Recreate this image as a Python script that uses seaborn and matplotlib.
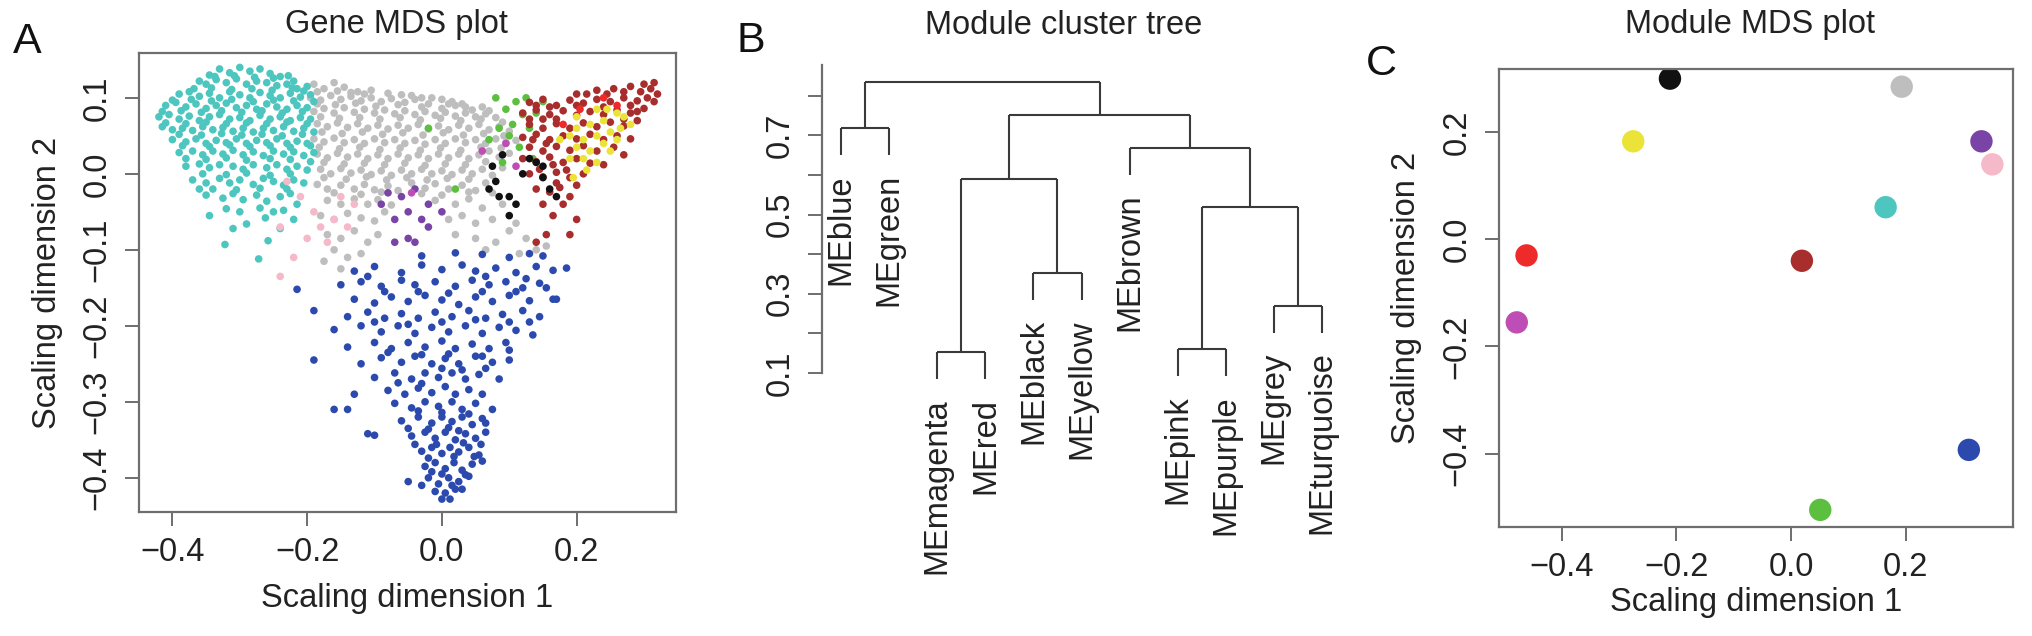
import numpy as np
import pandas as pd
import matplotlib
matplotlib.use("Agg")
import matplotlib.pyplot as plt
import seaborn as sns

# ---------------- data ----------------
# Panel A: gene MDS coordinates (per module)
turquoise_pts = [
    (-0.345, 0.13), (-0.33, 0.138), (-0.315, 0.133), (-0.30, 0.14), (-0.285, 0.135), (-0.27, 0.138), (-0.255, 0.132), (-0.24, 0.128), (-0.22, 0.122),
    (-0.36, 0.122), (-0.35, 0.118), (-0.335, 0.124), (-0.32, 0.12), (-0.305, 0.125), (-0.29, 0.118), (-0.275, 0.122), (-0.26, 0.12), (-0.245, 0.116), (-0.23, 0.118), (-0.215, 0.112), (-0.20, 0.115),
    (-0.39, 0.105), (-0.375, 0.108), (-0.36, 0.102), (-0.345, 0.106), (-0.33, 0.10), (-0.315, 0.108), (-0.30, 0.104), (-0.285, 0.10), (-0.27, 0.107), (-0.255, 0.103), (-0.24, 0.10), (-0.225, 0.106), (-0.21, 0.101), (-0.195, 0.104),
    (-0.41, 0.09), (-0.395, 0.094), (-0.38, 0.088), (-0.365, 0.092), (-0.35, 0.086), (-0.335, 0.09), (-0.32, 0.093), (-0.305, 0.087), (-0.29, 0.09), (-0.275, 0.085), (-0.26, 0.092), (-0.245, 0.088), (-0.23, 0.085), (-0.215, 0.09), (-0.20, 0.087),
    (-0.42, 0.075), (-0.405, 0.078), (-0.39, 0.072), (-0.375, 0.076), (-0.36, 0.07), (-0.345, 0.075), (-0.33, 0.078), (-0.315, 0.072), (-0.30, 0.074), (-0.285, 0.07), (-0.27, 0.077), (-0.255, 0.072), (-0.24, 0.075), (-0.225, 0.07), (-0.21, 0.074), (-0.195, 0.072),
    (-0.415, 0.062), (-0.40, 0.058), (-0.385, 0.06), (-0.37, 0.057), (-0.355, 0.062), (-0.34, 0.058), (-0.325, 0.061), (-0.31, 0.056), (-0.295, 0.06), (-0.28, 0.055), (-0.265, 0.06), (-0.25, 0.057), (-0.235, 0.062), (-0.22, 0.056), (-0.205, 0.06), (-0.19, 0.055),
    (-0.40, 0.045), (-0.38, 0.042), (-0.365, 0.046), (-0.35, 0.04), (-0.335, 0.044), (-0.32, 0.041), (-0.305, 0.046), (-0.29, 0.04), (-0.275, 0.044), (-0.26, 0.041), (-0.245, 0.046), (-0.23, 0.04), (-0.215, 0.043), (-0.20, 0.04),
    (-0.39, 0.028), (-0.37, 0.03), (-0.355, 0.025), (-0.34, 0.03), (-0.325, 0.026), (-0.31, 0.031), (-0.295, 0.025), (-0.28, 0.029), (-0.265, 0.024), (-0.25, 0.03), (-0.235, 0.026), (-0.22, 0.029), (-0.205, 0.024), (-0.19, 0.028),
    (-0.38, 0.01), (-0.36, 0.013), (-0.345, 0.008), (-0.33, 0.012), (-0.31, 0.01), (-0.295, 0.006), (-0.28, 0.012), (-0.26, 0.008), (-0.245, 0.012), (-0.23, 0.006), (-0.215, 0.01), (-0.20, 0.005),
    (-0.37, -0.008), (-0.35, -0.012), (-0.33, -0.006), (-0.315, -0.012), (-0.30, -0.008), (-0.28, -0.014), (-0.265, -0.006), (-0.25, -0.01), (-0.235, -0.015), (-0.22, -0.008), (-0.205, -0.012),
    (-0.35, -0.028), (-0.325, -0.032), (-0.31, -0.026), (-0.295, -0.034), (-0.275, -0.028), (-0.26, -0.036), (-0.24, -0.03), (-0.225, -0.026), (-0.215, -0.04),
    (-0.32, -0.046), (-0.30, -0.05), (-0.27, -0.045), (-0.25, -0.05), (-0.235, -0.048),
    (-0.31, -0.072), (-0.322, -0.093), (-0.29, -0.066), (-0.272, -0.112), (-0.258, -0.088), (-0.24, -0.072), (-0.262, -0.058), (-0.36, -0.02), (-0.345, -0.055), (-0.22, -0.06),
    (-0.337, 0.128), (-0.308, 0.129), (-0.278, 0.127), (-0.25, 0.126), (-0.228, 0.129),
    (-0.368, 0.112), (-0.342, 0.113), (-0.312, 0.111), (-0.282, 0.112), (-0.252, 0.11), (-0.222, 0.113), (-0.205, 0.109),
    (-0.40, 0.097), (-0.372, 0.098), (-0.342, 0.096), (-0.312, 0.098), (-0.28, 0.095), (-0.25, 0.097), (-0.22, 0.096), (-0.19, 0.095),
    (-0.415, 0.082), (-0.387, 0.083), (-0.357, 0.081), (-0.327, 0.083), (-0.297, 0.081), (-0.267, 0.083), (-0.237, 0.08), (-0.207, 0.082),
    (-0.41, 0.067), (-0.38, 0.066), (-0.35, 0.068), (-0.32, 0.066), (-0.29, 0.067), (-0.26, 0.066), (-0.23, 0.068), (-0.20, 0.066),
    (-0.39, 0.052), (-0.357, 0.051), (-0.327, 0.053), (-0.297, 0.051), (-0.267, 0.052), (-0.237, 0.05), (-0.207, 0.052),
    (-0.385, 0.037), (-0.345, 0.036), (-0.315, 0.038), (-0.285, 0.036), (-0.255, 0.037), (-0.225, 0.035), (-0.195, 0.037),
    (-0.38, 0.02), (-0.35, 0.019), (-0.32, 0.021), (-0.29, 0.018), (-0.255, 0.02), (-0.225, 0.019), (-0.195, 0.016),
    (-0.355, 0.0), (-0.32, -0.001), (-0.29, 0.001), (-0.255, -0.002), (-0.225, 0.0),
    (-0.34, -0.02), (-0.305, -0.021), (-0.27, -0.019), (-0.23, -0.02),
]
grey_pts = [
    (-0.19, 0.118), (-0.175, 0.112), (-0.16, 0.12), (-0.145, 0.114), (-0.125, 0.108), (-0.105, 0.11), (-0.06, 0.104), (-0.03, 0.10), (0.0, 0.098), (0.03, 0.092),
    (-0.195, 0.10), (-0.18, 0.097), (-0.165, 0.103), (-0.15, 0.098), (-0.135, 0.102), (-0.12, 0.096), (-0.105, 0.10), (-0.09, 0.095), (-0.075, 0.099), (-0.055, 0.094), (-0.04, 0.098), (-0.02, 0.092), (0.0, 0.086), (0.02, 0.09), (0.045, 0.084), (0.06, 0.088),
    (-0.19, 0.082), (-0.175, 0.086), (-0.16, 0.08), (-0.145, 0.087), (-0.13, 0.081), (-0.115, 0.085), (-0.10, 0.08), (-0.085, 0.084), (-0.07, 0.079), (-0.055, 0.083), (-0.04, 0.078), (-0.025, 0.082), (-0.01, 0.077), (0.005, 0.081), (0.02, 0.076), (0.035, 0.08), (0.05, 0.075), (0.065, 0.079), (0.08, 0.074),
    (-0.185, 0.066), (-0.17, 0.062), (-0.155, 0.067), (-0.14, 0.061), (-0.125, 0.066), (-0.11, 0.06), (-0.095, 0.064), (-0.08, 0.059), (-0.065, 0.064), (-0.05, 0.06), (-0.035, 0.065), (-0.02, 0.059), (-0.005, 0.063), (0.01, 0.058), (0.025, 0.064), (0.04, 0.06), (0.055, 0.065), (0.07, 0.058), (0.085, 0.062), (0.10, 0.056),
    (-0.19, 0.046), (-0.175, 0.042), (-0.16, 0.047), (-0.145, 0.041), (-0.13, 0.045), (-0.115, 0.04), (-0.10, 0.046), (-0.085, 0.041), (-0.07, 0.045), (-0.055, 0.04), (-0.04, 0.044), (-0.025, 0.039), (-0.01, 0.045), (0.005, 0.04), (0.02, 0.046), (0.035, 0.041), (0.05, 0.045), (0.065, 0.04), (0.08, 0.046), (0.095, 0.041), (0.11, 0.044),
    (-0.185, 0.026), (-0.17, 0.021), (-0.155, 0.027), (-0.14, 0.022), (-0.125, 0.026), (-0.11, 0.02), (-0.095, 0.025), (-0.08, 0.02), (-0.065, 0.026), (-0.05, 0.021), (-0.035, 0.025), (-0.02, 0.02), (-0.005, 0.026), (0.01, 0.021), (0.025, 0.026), (0.04, 0.02), (0.055, 0.025), (0.07, 0.03), (0.085, 0.022), (0.10, 0.027),
    (-0.18, 0.006), (-0.165, 0.0), (-0.15, 0.007), (-0.135, 0.001), (-0.12, 0.005), (-0.105, -0.001), (-0.09, 0.004), (-0.075, -0.002), (-0.06, 0.005), (-0.045, 0.0), (-0.03, 0.006), (-0.015, 0.0), (0.0, 0.004), (0.015, -0.001), (0.03, 0.005), (0.045, 0.0), (0.06, 0.006), (0.09, 0.008),
    (-0.185, -0.014), (-0.17, -0.02), (-0.15, -0.015), (-0.13, -0.02), (-0.115, -0.014), (-0.10, -0.021), (-0.08, -0.016), (-0.065, -0.022), (-0.045, -0.012), (-0.025, -0.019), (-0.01, -0.013), (0.01, -0.02), (0.03, -0.015), (0.05, -0.022), (0.065, -0.012),
    (-0.17, -0.035), (-0.15, -0.04), (-0.13, -0.033), (-0.11, -0.04), (-0.095, -0.034), (-0.075, -0.041), (-0.01, -0.035), (0.02, -0.04), (0.04, -0.033), (0.06, -0.045), (0.09, -0.04),
    (-0.18, -0.055), (-0.16, -0.06), (-0.14, -0.052), (-0.12, -0.058), (-0.10, -0.062), (-0.085, -0.05), (0.01, -0.06), (0.03, -0.055), (0.05, -0.065), (0.075, -0.06), (0.11, -0.065),
    (-0.17, -0.08), (-0.15, -0.085), (-0.13, -0.075), (-0.11, -0.09), (-0.16, -0.10), (-0.14, -0.11), (-0.175, -0.115), (-0.15, -0.125), (-0.12, -0.105), (-0.095, -0.08),
    (0.02, -0.08), (0.05, -0.085), (0.08, -0.09), (0.10, -0.075), (0.125, -0.085), (0.14, -0.10), (0.155, -0.095), (0.065, -0.10), (0.115, -0.105),
    (-0.185, 0.108), (-0.155, 0.109), (-0.135, 0.107), (-0.115, 0.105), (-0.08, 0.106), (-0.045, 0.103), (-0.015, 0.1), (0.015, 0.095),
    (-0.185, 0.092), (-0.158, 0.091), (-0.128, 0.093), (-0.098, 0.089), (-0.065, 0.091), (-0.03, 0.088), (0.01, 0.092), (0.035, 0.088), (0.07, 0.083),
    (-0.18, 0.075), (-0.152, 0.073), (-0.122, 0.074), (-0.092, 0.072), (-0.062, 0.074), (-0.032, 0.071), (-0.002, 0.073), (0.028, 0.07), (0.058, 0.072), (0.09, 0.068),
    (-0.178, 0.055), (-0.148, 0.053), (-0.118, 0.055), (-0.088, 0.052), (-0.058, 0.054), (-0.028, 0.051), (0.002, 0.054), (0.032, 0.051), (0.062, 0.053), (0.092, 0.05),
    (-0.182, 0.035), (-0.152, 0.033), (-0.122, 0.035), (-0.092, 0.032), (-0.062, 0.034), (-0.032, 0.031), (-0.002, 0.034), (0.028, 0.031), (0.058, 0.035), (0.088, 0.034),
    (-0.175, 0.015), (-0.145, 0.013), (-0.115, 0.014), (-0.085, 0.012), (-0.055, 0.014), (-0.025, 0.011), (0.005, 0.013), (0.035, 0.012), (0.065, 0.016),
    (-0.175, -0.005), (-0.142, -0.007), (-0.112, -0.004), (-0.082, -0.008), (-0.052, -0.005), (-0.022, -0.008), (0.008, -0.006), (0.04, -0.007), (0.075, -0.002),
    (-0.16, -0.025), (-0.12, -0.027), (-0.09, -0.024), (-0.03, -0.026), (0.0, -0.028), (0.04, -0.024), (0.075, -0.025),
]
blue_pts = [
    (-0.03, -0.108), (0.02, -0.104), (0.06, -0.106), (0.10, -0.11), (0.13, -0.105), (0.15, -0.108),
    (-0.13, -0.128), (-0.10, -0.122), (-0.06, -0.13), (-0.03, -0.12), (0.0, -0.126), (0.03, -0.12), (0.05, -0.128), (0.08, -0.124), (0.11, -0.13), (0.14, -0.122), (0.165, -0.127), (0.185, -0.124),
    (-0.15, -0.146), (-0.12, -0.142), (-0.09, -0.148), (-0.06, -0.14), (-0.04, -0.146), (-0.01, -0.142), (0.02, -0.148), (0.045, -0.14), (0.07, -0.146), (0.095, -0.142), (0.12, -0.15), (0.145, -0.144),
    (-0.13, -0.165), (-0.10, -0.17), (-0.075, -0.162), (-0.05, -0.168), (-0.025, -0.16), (0.0, -0.166), (0.025, -0.172), (0.05, -0.162), (0.075, -0.168), (0.10, -0.16), (0.13, -0.167), (0.165, -0.165),
    (-0.19, -0.18), (-0.14, -0.188), (-0.11, -0.182), (-0.085, -0.19), (-0.06, -0.184), (-0.035, -0.19), (-0.01, -0.182), (0.015, -0.188), (0.04, -0.18), (0.065, -0.19), (0.09, -0.185), (0.12, -0.18), (0.145, -0.188),
    (-0.16, -0.205), (-0.12, -0.20), (-0.09, -0.208), (-0.065, -0.20), (-0.04, -0.21), (-0.015, -0.202), (0.01, -0.208), (0.035, -0.20), (0.06, -0.21), (0.085, -0.202), (0.11, -0.206), (0.135, -0.212),
    (-0.14, -0.228), (-0.10, -0.222), (-0.075, -0.23), (-0.05, -0.222), (-0.025, -0.228), (0.0, -0.22), (0.02, -0.23), (0.045, -0.224), (0.07, -0.23), (0.095, -0.222),
    (-0.19, -0.245), (-0.12, -0.25), (-0.09, -0.242), (-0.06, -0.248), (-0.04, -0.24), (-0.015, -0.25), (0.005, -0.243), (0.025, -0.25), (0.05, -0.24), (0.075, -0.248), (0.10, -0.245),
    (-0.10, -0.268), (-0.07, -0.262), (-0.045, -0.27), (-0.025, -0.262), (-0.005, -0.268), (0.015, -0.262), (0.035, -0.27), (0.055, -0.264), (0.085, -0.27),
    (-0.13, -0.29), (-0.08, -0.285), (-0.055, -0.29), (-0.035, -0.282), (-0.015, -0.288), (0.005, -0.28), (0.02, -0.29), (0.04, -0.284), (0.06, -0.29),
    (-0.16, -0.31), (-0.14, -0.31), (-0.07, -0.302), (-0.045, -0.308), (-0.025, -0.30), (-0.005, -0.306), (0.015, -0.30), (0.03, -0.31), (0.05, -0.302), (0.075, -0.31),
    (-0.06, -0.325), (-0.035, -0.32), (-0.015, -0.328), (0.0, -0.32), (0.015, -0.326), (0.03, -0.32), (0.045, -0.33), (0.06, -0.322),
    (-0.11, -0.342), (-0.10, -0.344), (-0.045, -0.345), (-0.025, -0.34), (-0.01, -0.348), (0.005, -0.34), (0.02, -0.35), (0.035, -0.342), (0.05, -0.348), (0.065, -0.34),
    (-0.03, -0.365), (-0.015, -0.36), (0.0, -0.368), (0.012, -0.36), (0.025, -0.366), (0.04, -0.36), (0.055, -0.37),
    (-0.025, -0.385), (-0.01, -0.38), (0.005, -0.388), (0.018, -0.38), (0.03, -0.39), (0.045, -0.382), (0.06, -0.378),
    (-0.05, -0.405), (-0.02, -0.40), (-0.005, -0.408), (0.01, -0.40), (0.025, -0.405), (0.04, -0.398),
    (-0.01, -0.418), (0.005, -0.42), (0.012, -0.428), (0.02, -0.415),
    (-0.215, -0.152), (0.17, -0.165),
    (-0.035, -0.312), (0.0, -0.314), (0.04, -0.316), (0.065, -0.328), (-0.05, -0.335), (-0.02, -0.336), (0.01, -0.334), (0.025, -0.338),
    (0.058, -0.356), (-0.04, -0.356), (-0.008, -0.356), (0.032, -0.354), (0.018, -0.372), (-0.02, -0.374), (0.048, -0.372), (0.0, -0.395),
    (0.035, -0.396), (-0.015, -0.392), (0.015, -0.41), (0.03, -0.415), (0.0, -0.428), (-0.03, -0.41),
    (-0.065, -0.275), (-0.03, -0.276), (0.0, -0.256), (0.03, -0.258), (0.065, -0.256), (-0.08, -0.235), (-0.03, -0.238), (0.01, -0.237),
    (0.06, -0.24), (0.10, -0.232), (-0.10, -0.195), (-0.05, -0.198), (0.0, -0.195), (0.05, -0.192), (0.10, -0.195), (0.13, -0.195),
    (-0.085, -0.155), (-0.035, -0.155), (0.01, -0.157), (0.06, -0.155), (0.11, -0.155), (0.155, -0.15), (-0.11, -0.135), (0.065, -0.135), (0.125, -0.138),
]
brown_pts = [
    (0.20, 0.105), (0.23, 0.11), (0.255, 0.112), (0.28, 0.115), (0.30, 0.118), (0.315, 0.12),
    (0.13, 0.094), (0.15, 0.098), (0.17, 0.09), (0.19, 0.097), (0.21, 0.093), (0.23, 0.098), (0.25, 0.095), (0.27, 0.10), (0.29, 0.096), (0.305, 0.10), (0.32, 0.105),
    (0.12, 0.08), (0.14, 0.084), (0.16, 0.078), (0.18, 0.083), (0.20, 0.077), (0.22, 0.082), (0.24, 0.078), (0.26, 0.084), (0.28, 0.08), (0.30, 0.086),
    (0.13, 0.065), (0.15, 0.06), (0.17, 0.066), (0.19, 0.06), (0.21, 0.067), (0.23, 0.062), (0.25, 0.068), (0.27, 0.063), (0.29, 0.07),
    (0.12, 0.048), (0.14, 0.052), (0.16, 0.045), (0.18, 0.05), (0.20, 0.046), (0.22, 0.052), (0.24, 0.045), (0.26, 0.05), (0.28, 0.046),
    (0.13, 0.035), (0.15, 0.03), (0.17, 0.036), (0.19, 0.031), (0.21, 0.037), (0.23, 0.03), (0.255, 0.035), (0.27, 0.025),
    (0.12, 0.02), (0.14, 0.016), (0.16, 0.022), (0.18, 0.015), (0.20, 0.02), (0.22, 0.014), (0.24, 0.012),
    (0.13, 0.0), (0.15, -0.004), (0.17, 0.002), (0.19, -0.005), (0.21, 0.0),
    (0.14, -0.02), (0.16, -0.024), (0.175, -0.018), (0.19, -0.03),
    (0.18, -0.04), (0.20, -0.06), (0.165, -0.055), (0.155, -0.08), (0.14, -0.09), (0.19, -0.08),
    (0.215, 0.105), (0.245, 0.105), (0.27, 0.108), (0.295, 0.108), (0.31, 0.112), (0.14, 0.09), (0.16, 0.088), (0.20, 0.09),
    (0.24, 0.088), (0.28, 0.09), (0.315, 0.095), (0.13, 0.072), (0.15, 0.072), (0.17, 0.072), (0.27, 0.072), (0.29, 0.082),
    (0.155, 0.04), (0.135, 0.045), (0.145, 0.006), (0.165, 0.012), (0.185, 0.005), (0.20, -0.015), (0.15, -0.04), (0.17, -0.012),
]
yellow_pts = [
    (0.19, 0.05), (0.20, 0.035), (0.21, 0.045), (0.22, 0.03), (0.23, 0.05), (0.24, 0.04), (0.25, 0.055), (0.26, 0.045),
    (0.22, 0.065), (0.24, 0.07), (0.25, 0.03), (0.21, 0.02), (0.20, 0.06), (0.23, 0.015), (0.265, 0.06), (0.27, 0.075),
    (0.28, 0.065), (0.215, 0.005), (0.19, 0.02), (0.245, 0.085), (0.20, 0.075), (0.175, 0.045), (0.26, 0.08), (0.23, 0.085), (0.195, -0.005),
]
green_pts = [
    (0.08, 0.10), (0.095, 0.085), (0.11, 0.095), (0.12, 0.078), (0.105, 0.065), (0.085, 0.06), (0.10, 0.05), (0.13, 0.06),
    (0.14, 0.08), (0.115, 0.035), (0.07, 0.045), (0.15, 0.095), (0.125, 0.10), (-0.02, 0.06), (0.02, -0.02), (0.09, 0.015), (0.135, 0.02),
]
black_pts = [
    (0.07, -0.02), (0.08, -0.01), (0.085, -0.03), (0.10, -0.03), (0.11, -0.04), (0.12, 0.0), (0.13, 0.02), (0.14, 0.015),
    (0.15, 0.01), (0.16, -0.02), (0.17, -0.03), (0.09, 0.025), (0.075, 0.01), (0.15, -0.005), (0.10, -0.055),
]
pink_pts = [
    (-0.23, -0.01), (-0.21, -0.03), (-0.19, -0.05), (-0.18, -0.07), (-0.20, -0.085), (-0.22, -0.11), (-0.24, -0.135),
    (-0.17, -0.09), (-0.16, -0.06), (-0.14, -0.07), (-0.24, -0.07), (-0.13, -0.04), (-0.15, -0.03),
]
purple_pts = [
    (-0.06, -0.03), (-0.04, -0.02), (-0.07, -0.06), (-0.05, -0.05), (-0.03, -0.06), (-0.02, -0.04), (-0.05, -0.085),
    (-0.07, -0.09), (-0.02, -0.07), (0.0, -0.05), (-0.09, -0.04), (-0.04, -0.09), (-0.08, -0.025),
]
magenta_pts = [(0.06, 0.03), (0.095, 0.04), (-0.045, -0.025), (0.11, 0.01)]
red_pts = [(0.205, 0.085), (0.24, 0.10), (0.18, 0.065), (0.26, 0.09)]

# Panel B: module eigengene dendrogram
leaf_labels = ["MEblue", "MEgreen", "MEmagenta", "MEred", "MEblack", "MEyellow",
               "MEbrown", "MEpink", "MEpurple", "MEgrey", "MEturquoise"]
# merges: (left child, right child); negative = leaf index (1-based), positive = earlier merge
merge_pairs = [(-3, -4), (-8, -9), (-10, -11), (-5, -6), (2, 3), (1, 4), (-7, 5), (-1, -2), (6, 7), (8, 9)]
merge_heights = [0.152, 0.160, 0.270, 0.352, 0.518, 0.591, 0.669, 0.718, 0.752, 0.835]
hang = 0.068

# Panel C: module MDS coordinates
module_names = ["black", "grey", "yellow", "purple", "pink", "turquoise", "red", "brown", "magenta", "blue", "green"]
module_x = [-0.211, 0.193, -0.275, 0.332, 0.351, 0.165, -0.461, 0.019, -0.478, 0.310, 0.051]
module_y = [0.300, 0.285, 0.183, 0.183, 0.140, 0.060, -0.030, -0.040, -0.155, -0.393, -0.505]

palette = {
    "grey": "#BEBEBE", "turquoise": "#4DC6BF", "blue": "#2C4AAE", "brown": "#A82E2E",
    "yellow": "#ECE338", "green": "#5CBF3F", "black": "#111111", "pink": "#F5B9C9",
    "purple": "#7A44A6", "magenta": "#BE4DB5", "red": "#EE2B2B",
}

# ---------------- style ----------------
sns.set_theme(style="white")
plt.rcParams["font.family"] = ["Liberation Sans", "DejaVu Sans"]
plt.rcParams["xtick.bottom"] = True
plt.rcParams["ytick.left"] = True
FS = 23.5
TXT = "#222222"
FRAME = "#6E6E6E"

W, H = 2032, 636
fig = plt.figure(figsize=(W / 100, H / 100), dpi=100)


def ax_at(l, t, r, b):
    return fig.add_axes([l / W, 1 - b / H, (r - l) / W, (b - t) / H])


def style_box(ax):
    for s in ax.spines.values():
        s.set_visible(True)
        s.set_color(FRAME)
        s.set_linewidth(1.6)
    ax.tick_params(axis="both", which="both", direction="out", length=10, width=1.4,
                   color=FRAME, labelsize=FS, labelcolor=TXT, pad=8, bottom=True, left=True)
    ax.tick_params(axis="y", pad=9)
    for lab in ax.get_yticklabels():
        lab.set_rotation(90)
        lab.set_va("center")


def fmt(v):
    return f"{v:.1f}".replace("-", "\u2212")

# ---------------- Panel A ----------------
axA = ax_at(139, 53, 676, 512)
order = [("grey", grey_pts), ("turquoise", turquoise_pts), ("pink", pink_pts), ("purple", purple_pts),
         ("blue", blue_pts), ("green", green_pts), ("brown", brown_pts), ("yellow", yellow_pts),
         ("black", black_pts), ("red", red_pts), ("magenta", magenta_pts)]
rows = []
for name, pts in order:
    for x, y in pts:
        rows.append((x, y, name))
genes = pd.DataFrame(rows, columns=["dim1", "dim2", "module"])
sns.scatterplot(data=genes, x="dim1", y="dim2", hue="module", palette=palette, s=30,
                linewidth=0, edgecolor="none", legend=False, ax=axA)
axA.set_xlim(-0.4496, 0.3475)
axA.set_ylim(-0.445, 0.159)
xt = [-0.4, -0.2, 0.0, 0.2]
yt = [-0.4, -0.3, -0.2, -0.1, 0.0, 0.1]
axA.set_xticks(xt)
axA.set_xticklabels([fmt(v) for v in xt])
axA.set_yticks(yt)
axA.set_yticklabels([fmt(v) for v in yt])
style_box(axA)
axA.set_xlabel("Scaling dimension 1", fontsize=FS, color=TXT)
axA.set_ylabel("Scaling dimension 2", fontsize=FS, color=TXT)
axA.xaxis.set_label_coords(0.5, (512 - 598) / 459)
axA.xaxis.label.set_va("center")
axA.yaxis.set_label_coords((47 - 139) / 537, 0.5)
axA.yaxis.label.set_va("center")

# ---------------- Panel B ----------------
axB = ax_at(822, 56.2, 1341, 432.4)
axB.set_xlim(0.6, 11.4)
axB.set_ylim(-0.05, 0.90)
node_x, node_h = {}, {}
line_kw = dict(color="#3A3A3A", lw=1.5, solid_capstyle="butt")
for i, ((a, b), h) in enumerate(zip(merge_pairs, merge_heights), start=1):
    xs = []
    for c in (a, b):
        if c < 0:
            cx = -c
            ch = h - hang
            axB.plot([cx, cx], [h, ch], **line_kw)
            axB.text(cx, ch - 0.048, leaf_labels[cx - 1], rotation=90, ha="center", va="top",
                     fontsize=FS, color=TXT, clip_on=False)
        else:
            cx = node_x[c]
            axB.plot([cx, cx], [h, node_h[c]], **line_kw)
        xs.append(cx)
    axB.plot([xs[0], xs[1]], [h, h], **line_kw)
    node_x[i] = (xs[0] + xs[1]) / 2
    node_h[i] = h
for k, s in axB.spines.items():
    s.set_visible(k == "left")
axB.spines["left"].set_color(FRAME)
axB.spines["left"].set_linewidth(1.6)
axB.spines["left"].set_bounds(0.1, 0.878)
ytB = [0.1, 0.2, 0.3, 0.4, 0.5, 0.6, 0.7, 0.8]
axB.set_yticks(ytB)
axB.set_yticklabels([fmt(v) if round(v * 10) % 2 == 1 else "" for v in ytB])
axB.set_xticks([])
axB.tick_params(axis="y", direction="out", length=10, width=1.4, color=FRAME,
                labelsize=FS, labelcolor=TXT, pad=9, left=True)
for lab in axB.get_yticklabels():
    lab.set_rotation(90)
    lab.set_va("center")
axB.patch.set_alpha(0)

# ---------------- Panel C ----------------
axC = ax_at(1499, 69, 2013, 527)
mods = pd.DataFrame({"dim1": module_x, "dim2": module_y, "module": module_names})
sns.scatterplot(data=mods, x="dim1", y="dim2", hue="module", palette=palette, s=260,
                linewidth=0, edgecolor="none", legend=False, ax=axC)
axC.set_xlim(-0.509, 0.387)
axC.set_ylim(-0.537, 0.318)
xtC = [-0.4, -0.2, 0.0, 0.2]
ytC = [-0.4, -0.2, 0.0, 0.2]
axC.set_xticks(xtC)
axC.set_xticklabels([fmt(v) for v in xtC])
axC.set_yticks(ytC)
axC.set_yticklabels([fmt(v) for v in ytC])
style_box(axC)
axC.set_xlabel("Scaling dimension 1", fontsize=FS, color=TXT)
axC.set_ylabel("Scaling dimension 2", fontsize=FS, color=TXT)
axC.xaxis.set_label_coords(0.5, (527 - 602) / 458)
axC.xaxis.label.set_va("center")
axC.yaxis.set_label_coords((1407 - 1499) / 514, 0.5)
axC.yaxis.label.set_va("center")

# ---------------- titles and panel letters ----------------
for cx, t in [(396, "Gene MDS plot"), (1064, "Module cluster tree"), (1750, "Module MDS plot")]:
    fig.text(cx / W, 1 - 25 / H, t, ha="center", va="center", fontsize=FS, color=TXT)
for lx, by, t in [(13, 53, "A"), (737, 52, "B"), (1366, 75, "C")]:
    fig.text(lx / W, 1 - by / H, t, ha="left", va="baseline", fontsize=31, color="#111111")

fig.savefig("out.png", dpi=100, facecolor="white")
